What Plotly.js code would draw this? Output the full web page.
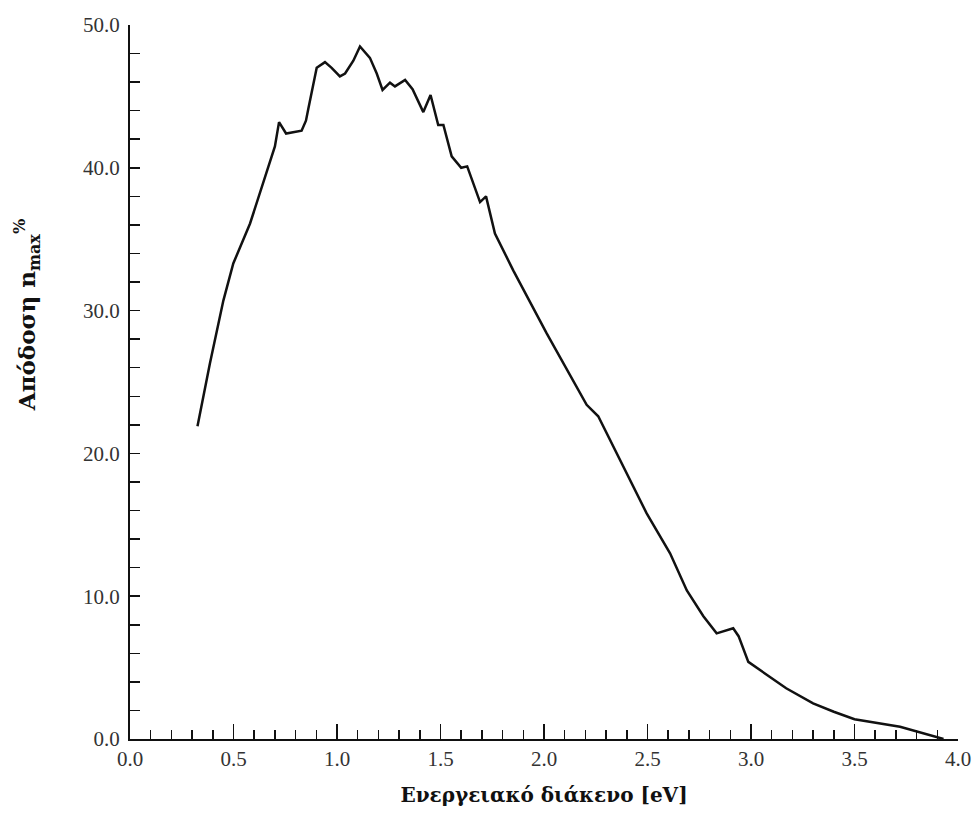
<!DOCTYPE html>
<html>
<head>
<meta charset="utf-8">
<script src="https://cdn.plot.ly/plotly-3.0.1.min.js"></script>
<style>html,body{margin:0;padding:0;background:#fff;}#chart{width:976px;height:816px;}</style>
</head>
<body>
<div id="chart"></div>
<script>
const energyGap = [0.326, 0.386, 0.451, 0.499, 0.580, 0.644, 0.700, 0.720, 0.754, 0.829, 0.850, 0.861, 0.902, 0.942, 0.974, 1.014, 1.039, 1.079, 1.111, 1.159, 1.192, 1.220, 1.256, 1.280, 1.329, 1.365, 1.417, 1.452, 1.489, 1.514, 1.554, 1.600, 1.629, 1.691, 1.720, 1.763, 1.852, 2.013, 2.158, 2.206, 2.262, 2.383, 2.496, 2.609, 2.690, 2.770, 2.834, 2.914, 2.940, 2.987, 3.075, 3.170, 3.300, 3.400, 3.500, 3.720, 3.930];
const efficiency = [21.9, 26.3, 30.7, 33.3, 36.1, 38.9, 41.5, 43.2, 42.4, 42.6, 43.3, 44.1, 47.0, 47.4, 47.0, 46.4, 46.6, 47.5, 48.5, 47.7, 46.6, 45.45, 45.96, 45.7, 46.15, 45.5, 43.9, 45.1, 43.0, 43.0, 40.8, 40.0, 40.1, 37.6, 38.0, 35.4, 32.8, 28.4, 24.7, 23.4, 22.6, 19.1, 15.8, 13.0, 10.4, 8.6, 7.4, 7.75, 7.2, 5.4, 4.48, 3.55, 2.5, 1.91, 1.38, 0.86, 0.0];
const xTitle = 'Ενεργειακό διάκενο [eV]';
const yTitle = 'Απόδοση n<sub>max</sub><sup>%</sup>';

const serif = 'Liberation Serif, DejaVu Serif, serif';
const titleSerif = 'DejaVu Serif, serif';

Plotly.newPlot('chart', [{
  x: energyGap,
  y: efficiency,
  type: 'scatter',
  mode: 'lines',
  line: {color: '#111', width: 2.5},
  cliponaxis: false,
  hoverinfo: 'skip'
}], {
  width: 976,
  height: 816,
  margin: {l: 130, r: 18, t: 25, b: 77},
  paper_bgcolor: '#fff',
  plot_bgcolor: '#fff',
  showlegend: false,
  font: {family: serif, color: '#222', size: 21},
  xaxis: {
    range: [0, 4],
    dtick: 0.5,
    tick0: 0,
    tickformat: '.1f',
    ticks: 'inside',
    ticklen: 15,
    tickwidth: 1.5,
    tickcolor: '#111',
    minor: {ticks: 'inside', dtick: 0.1, ticklen: 9, tickwidth: 1.5, tickcolor: '#111'},
    showgrid: false,
    zeroline: false,
    showline: true,
    linecolor: '#111',
    linewidth: 2,
    tickfont: {family: serif, size: 21, color: '#333'},
    title: {text: xTitle, font: {family: titleSerif, size: 20, color: '#111', weight: 'bold'}, standoff: 18}
  },
  yaxis: {
    range: [0, 50],
    dtick: 10,
    tick0: 0,
    tickformat: '.1f',
    ticks: 'inside',
    ticklen: 10,
    tickwidth: 1.5,
    tickcolor: '#111',
    minor: {ticks: 'inside', dtick: 2, ticklen: 10, tickwidth: 1.5, tickcolor: '#111'},
    showgrid: false,
    zeroline: false,
    showline: true,
    linecolor: '#111',
    linewidth: 2,
    tickfont: {family: serif, size: 21, color: '#333'},
    ticklabelstandoff: 4
  },
  annotations: [{
    text: yTitle,
    xref: 'paper', yref: 'paper',
    x: -0.124, y: 0.594,
    xanchor: 'center', yanchor: 'middle',
    textangle: -90,
    showarrow: false,
    font: {family: titleSerif, size: 23, color: '#111', weight: 'bold'}
  }]
}, {displayModeBar: false, staticPlot: true});
</script>
</body>
</html>
